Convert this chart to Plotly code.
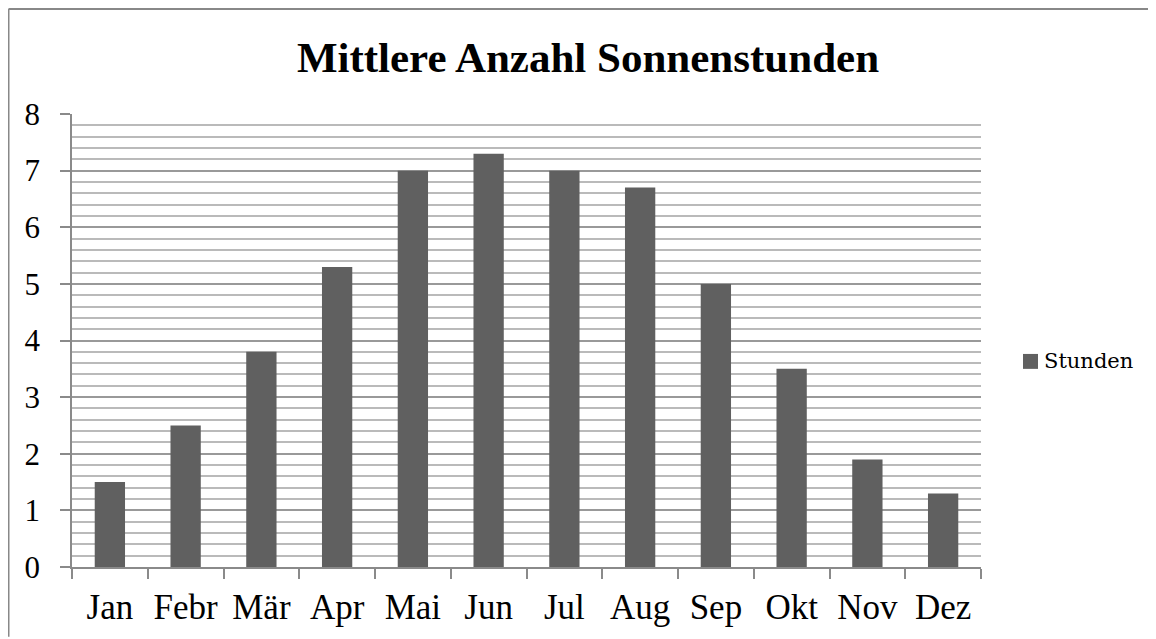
import plotly.graph_objects as go

months = ["Jan", "Febr", "Mär", "Apr", "Mai", "Jun", "Jul", "Aug", "Sep", "Okt", "Nov", "Dez"]
stunden = [1.5, 2.5, 3.8, 5.3, 7.0, 7.3, 7.0, 6.7, 5.0, 3.5, 1.9, 1.3]
y_ticks = [0, 1, 2, 3, 4, 5, 6, 7, 8]
series_name = "Stunden"

OFF = 8  # page body margin
W, H = 1156 - OFF, 639 - OFF
L, R, T, B = 72 - OFF, 981 - OFF, 114 - OFF, 569 - OFF
BAR_COLOR = "#606060"

fig = go.Figure()
fig.add_trace(go.Bar(x=months, y=stunden, name=series_name,
                     marker=dict(color=BAR_COLOR, line=dict(width=0)), showlegend=False))


def px_x(p):
    return (p - OFF - L) / (R - L)


def px_y(p):
    return (B - (p - OFF)) / (B - T)


fig.update_layout(
    width=W, height=H,
    margin=dict(l=L, r=W - R, t=T, b=H - B),
    paper_bgcolor="white", plot_bgcolor="white",
    bargap=0.6,
    title=dict(text="<b>Mittlere Anzahl Sonnenstunden</b>",
               x=(588 - OFF) / W, xanchor="center",
               y=1 - (57 - OFF) / H, yanchor="middle",
               font=dict(family="Liberation Serif", size=43, color="black")),
    showlegend=False,
    xaxis=dict(
        showline=True, linecolor="#8a8a8a", linewidth=1.5,
        ticks="outside", ticklen=10, tickcolor="#8a8a8a", tickwidth=1.5,
        tickson="boundaries", showgrid=False,
        tickfont=dict(family="Liberation Serif", size=35, color="black"),
        ticklabelstandoff=8,
    ),
    yaxis=dict(
        range=[0, 8], tickvals=y_ticks,
        showline=True, linecolor="#8a8a8a", linewidth=1.5,
        ticks="outside", ticklen=10, tickcolor="#8a8a8a", tickwidth=1.5,
        showgrid=True, gridcolor="#999999", gridwidth=1.5,
        minor=dict(dtick=0.2, showgrid=True, gridcolor="#bababa", gridwidth=1.5),
        zeroline=False,
        tickfont=dict(family="Liberation Serif", size=31, color="black"),
        ticklabelstandoff=14,
    ),
    shapes=[
        dict(type="line", xref="paper", yref="paper",
             x0=px_x(8.5), x1=px_x(1156), y0=px_y(8.5), y1=px_y(8.5),
             line=dict(color="#888888", width=2)),
        dict(type="line", xref="paper", yref="paper",
             x0=px_x(8.5), x1=px_x(8.5), y0=px_y(8.5), y1=px_y(639),
             line=dict(color="#888888", width=2)),
        # legend key
        dict(type="rect", xref="paper", yref="paper",
             x0=px_x(1023), x1=px_x(1038), y0=px_y(370), y1=px_y(355),
             fillcolor=BAR_COLOR, line=dict(width=0)),
    ],
    annotations=[
        dict(text=series_name, xref="paper", yref="paper", x=px_x(1042), y=px_y(362),
             xanchor="left", yanchor="middle", showarrow=False,
             font=dict(family="DejaVu Serif", size=21, color="black")),
    ],
)

fig.write_html(
    "out.html",
    config={"displayModeBar": False},
    post_script="document.documentElement.style.overflow='hidden';document.body.style.overflow='hidden';",
)
